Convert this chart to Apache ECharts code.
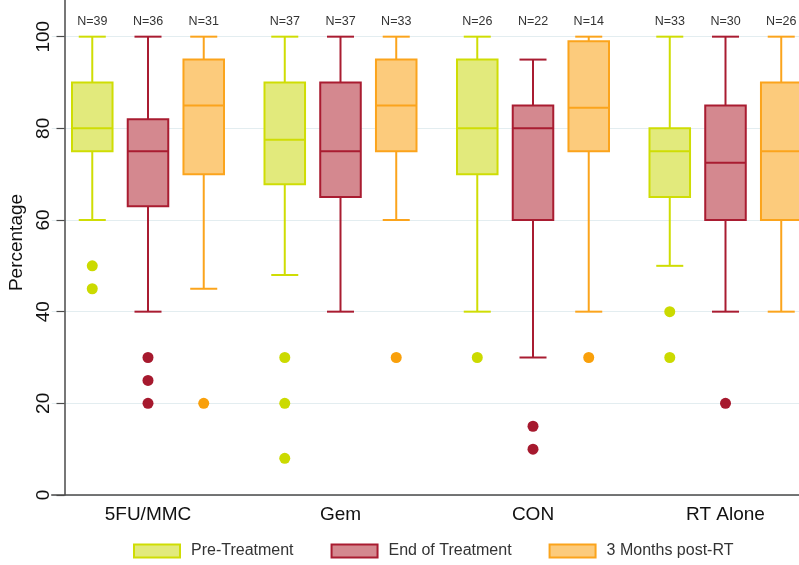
<!DOCTYPE html>
<html>
<head>
<meta charset="utf-8">
<script src="https://cdn.jsdelivr.net/npm/echarts@6/dist/echarts.min.js"></script>
<style>
  html, body { margin: 0; padding: 0; background: #ffffff; }
  #chart { width: 799px; height: 565px; }
</style>
</head>
<body>
<div id="chart"></div>
<script>
// Treatment arms on the x axis and the three assessment time points
const categories = ['5FU/MMC', 'Gem', 'CON', 'RT Alone'];
const timepoints = ['Pre-Treatment', 'End of Treatment', '3 Months post-RT'];
const yTicks = [0, 20, 40, 60, 80, 100];

// [lower whisker, Q1, median, Q3, upper whisker] per treatment arm
const preStats = [
  [60, 75, 80, 90, 100],
  [48, 67.8, 77.5, 90, 100],
  [40, 70, 80, 95, 100],
  [50, 65, 75, 80, 100]
];
const endStats = [
  [40, 63, 75, 82, 100],
  [40, 65, 75, 90, 100],
  [30, 60, 80, 85, 95],
  [40, 60, 72.5, 85, 100]
];
const postStats = [
  [45, 70, 85, 95, 100],
  [60, 75, 85, 95, 100],
  [40, 75, 84.5, 99, 100],
  [40, 60, 75, 90, 100]
];

// Number of patients behind each box
const preN = [39, 37, 26, 33];
const endN = [36, 37, 22, 30];
const postN = [31, 33, 14, 26];

// Outlying observations as [arm index, value]
const preOutliers = [[0, 50], [0, 45], [1, 30], [1, 20], [1, 8], [2, 30], [3, 40], [3, 30]];
const endOutliers = [[0, 30], [0, 25], [0, 20], [2, 15], [2, 10], [3, 20]];
const postOutliers = [[0, 20], [1, 30], [2, 30]];

const FONT = '"Liberation Sans", Arial, Helvetica, sans-serif';
const N_LABEL_LEVEL = 103.4;   // value level where the group sizes are printed

const palette = [
  { fill: '#e2ea7c', stroke: '#cfdd04', dot: '#cbda00' },
  { fill: '#d4888f', stroke: '#a91c31', dot: '#a6192e' },
  { fill: '#fccb7c', stroke: '#fba41c', dot: '#f9a00b' }
];

// Same side-by-side placement rule the boxplot series uses inside a category band
function slotGeometry(api, slot) {
  const count = timepoints.length;
  const band = api.size([1, 0])[0];
  const avail = band * 0.8 - 2;
  const gap = avail / count * 0.3;
  const boxW = (avail - gap * (count - 1)) / count;
  return { shift: (slot - (count - 1) / 2) * (boxW + gap), boxW: boxW };
}

function boxRenderer(slot) {
  const c = palette[slot];
  return function (params, api) {
    const cat = api.value(0);
    const g = slotGeometry(api, slot);
    const cx = api.coord([cat, 0])[0] + g.shift;
    const y = function (i) { return api.coord([cat, api.value(i)])[1]; };
    const yLo = y(1), yQ1 = y(2), yMed = y(3), yQ3 = y(4), yHi = y(5);
    const half = g.boxW / 2;
    const capHalf = g.boxW / 3;
    const line = { stroke: c.stroke, lineWidth: 2 };
    const nY = api.coord([cat, N_LABEL_LEVEL])[1];
    return {
      type: 'group',
      children: [
        { type: 'line', shape: { x1: cx, y1: yHi, x2: cx, y2: yQ3 }, style: line },
        { type: 'line', shape: { x1: cx - capHalf, y1: yHi, x2: cx + capHalf, y2: yHi }, style: line },
        { type: 'line', shape: { x1: cx, y1: yQ1, x2: cx, y2: yLo }, style: line },
        { type: 'line', shape: { x1: cx - capHalf, y1: yLo, x2: cx + capHalf, y2: yLo }, style: line },
        { type: 'rect', shape: { x: cx - half, y: yQ3, width: g.boxW, height: yQ1 - yQ3 },
          style: { fill: c.fill, stroke: c.stroke, lineWidth: 2 } },
        { type: 'line', shape: { x1: cx - half, y1: yMed, x2: cx + half, y2: yMed }, style: line },
        { type: 'text', x: cx, y: nY,
          style: { text: 'N=' + api.value(6), fill: '#333333', font: '12.5px ' + FONT,
                   textAlign: 'center', textVerticalAlign: 'middle' } }
      ]
    };
  };
}

function outlierRenderer(slot) {
  const c = palette[slot];
  return function (params, api) {
    const cat = api.value(0);
    const g = slotGeometry(api, slot);
    const p = api.coord([cat, api.value(1)]);
    return { type: 'circle', shape: { cx: p[0] + g.shift, cy: p[1], r: 5.5 }, style: { fill: c.dot } };
  };
}

function boxData(stats, counts) {
  return categories.map(function (_, i) { return [i].concat(stats[i], [counts[i]]); });
}

const statsBySlot = [preStats, endStats, postStats];
const countsBySlot = [preN, endN, postN];
const outliersBySlot = [preOutliers, endOutliers, postOutliers];

const series = [];
timepoints.forEach(function (name, slot) {
  series.push({
    name: name, type: 'custom', renderItem: boxRenderer(slot),
    data: boxData(statsBySlot[slot], countsBySlot[slot]),
    encode: { x: 0, y: [1, 2, 3, 4, 5] }, clip: false, z: 2
  });
  series.push({
    name: name, type: 'custom', renderItem: outlierRenderer(slot),
    data: outliersBySlot[slot], encode: { x: 0, y: 1 }, z: 3
  });
});

const chart = echarts.init(document.getElementById('chart'), null, { renderer: 'canvas' });
chart.setOption({
  backgroundColor: '#ffffff',
  animation: false,
  textStyle: { fontFamily: FONT },
  grid: { left: 51.75, right: -22.75, top: 0, bottom: 70, containLabel: false, outerBoundsMode: 'none' },
  xAxis: {
    type: 'category',
    data: categories,
    axisLine: { show: true, lineStyle: { color: '#4a4a4a', width: 1.5 } },
    axisTick: { show: false },
    axisLabel: { fontSize: 19, color: '#111111', margin: 10, fontFamily: FONT },
    splitLine: { show: false }
  },
  yAxis: {
    type: 'value',
    min: 0, max: 108, interval: 20,
    offset: -12.75,
    name: 'Percentage', nameLocation: 'middle', nameGap: 23, nameRotate: 90,
    nameTextStyle: { fontSize: 19, color: '#111111', fontFamily: FONT, padding: [0, 0, 0, 10] },
    axisLine: { show: true, lineStyle: { color: '#4a4a4a', width: 1.5 } },
    axisTick: { show: true, length: 8, lineStyle: { color: '#4a4a4a', width: 1.2 }, customValues: yTicks },
    axisLabel: { rotate: 90, fontSize: 19, color: '#111111', margin: 11.5, fontFamily: FONT,
                 customValues: yTicks },
    splitLine: { show: true, lineStyle: { color: '#e3edf0', width: 1.2 } }
  },
  legend: {
    left: 133, top: 543, padding: 0,
    itemWidth: 46, itemHeight: 13, itemGap: 37,
    icon: 'rect',
    textStyle: { fontSize: 16, color: '#333333', fontFamily: FONT, padding: [0, 0, 0, 6] },
    data: timepoints.map(function (name, slot) {
      return { name: name, itemStyle: { color: palette[slot].fill, borderColor: palette[slot].stroke, borderWidth: 2 } };
    })
  },
  series: series
});
</script>
</body>
</html>
